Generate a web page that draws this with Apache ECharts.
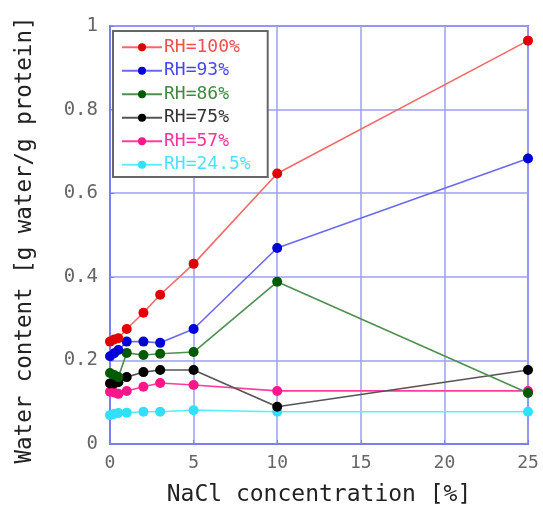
<!DOCTYPE html>
<html><head><meta charset="utf-8">
<script src="https://cdn.jsdelivr.net/npm/echarts@6/dist/echarts.min.js"></script>
<style>html,body{margin:0;padding:0;background:#fff}#c{width:543px;height:517px}</style>
</head><body><div id="c"></div>
<script>
const xValues = [0, 0.25, 0.5, 1, 2, 3, 5, 10, 25];
const rh100 = [0.245, 0.25, 0.253, 0.275, 0.314, 0.357, 0.431, 0.647, 0.965];
const rh93  = [0.21, 0.217, 0.225, 0.245, 0.245, 0.242, 0.275, 0.469, 0.683];
const rh86  = [0.17, 0.165, 0.16, 0.218, 0.213, 0.216, 0.22, 0.388, 0.122];
const rh75  = [0.145, 0.145, 0.148, 0.16, 0.172, 0.177, 0.177, 0.089, 0.177];
const rh57  = [0.125, 0.123, 0.12, 0.127, 0.137, 0.146, 0.141, 0.127, 0.127];
const rh245 = [0.069, 0.072, 0.074, 0.075, 0.077, 0.077, 0.081, 0.077, 0.077];
const seriesNames = ['RH=100%', 'RH=93%', 'RH=86%', 'RH=75%', 'RH=57%', 'RH=24.5%'];
const xTitle = 'NaCl concentration [%]';
const yTitle = 'Water content [g water/g protein]';

const styles = [
  {marker:'#e00000', line:'#f26a6a', text:'#f05050'},
  {marker:'#0000d8', line:'#6a6af0', text:'#4848ee'},
  {marker:'#005a00', line:'#4f8f4f', text:'#3f8a3f'},
  {marker:'#000000', line:'#555555', text:'#333333'},
  {marker:'#ff168a', line:'#ff3c9c', text:'#ff3399'},
  {marker:'#30e0ff', line:'#60eeff', text:'#50e0ff'}
];
const allData = [rh100, rh93, rh86, rh75, rh57, rh245];
const font = 'DejaVu Sans Mono';
const gridColor = '#9e9ef8';
const boxColor = '#7d7df2';

const chart = echarts.init(document.getElementById('c'), null, {renderer:'canvas'});
chart.setOption({
  animation: false,
  backgroundColor: '#fff',
  grid: {left:110, right:15, top:26, bottom:73, show:true, borderColor:boxColor, borderWidth:2, backgroundColor:'transparent'},
  legend: {
    orient:'vertical', left:113, top:31,
    backgroundColor:'#fff', borderColor:'#666', borderWidth:2,
    padding:[6,17,2,8], itemGap:3, itemWidth:40, itemHeight:10,
    textStyle:{fontFamily:font, fontSize:18, lineHeight:20.5, padding:[0,0,0,-3]},
    data: seriesNames.map((n,i)=>({name:n, textStyle:{color:styles[i].text}}))
  },
  xAxis: {
    type:'value', min:0, max:25, interval:5,
    name:xTitle, nameLocation:'middle', nameGap:40,
    nameTextStyle:{fontFamily:font, fontSize:23, color:'#222'},
    axisLine:{show:true, lineStyle:{color:boxColor, width:2}},
    axisTick:{show:true, inside:true, length:4, lineStyle:{color:boxColor}},
    axisLabel:{fontFamily:font, fontSize:18, color:'#666', margin:10},
    splitLine:{show:true, lineStyle:{color:gridColor, width:1.5}}
  },
  yAxis: {
    type:'value', min:0, max:1, interval:0.2,
    name:yTitle, nameLocation:'middle', nameGap:73, nameRotate:90,
    nameTextStyle:{fontFamily:font, fontSize:22.5, color:'#222', padding:[0,10,0,0]},
    axisLine:{show:true, lineStyle:{color:boxColor, width:2}},
    axisTick:{show:true, inside:true, length:4, lineStyle:{color:boxColor}},
    axisLabel:{fontFamily:font, fontSize:19, color:'#666', margin:12,
      formatter:v=>String(Math.round(v*10)/10)},
    splitLine:{show:true, lineStyle:{color:gridColor, width:1.5}}
  },
  series: allData.map((d,i)=>({
    name:seriesNames[i], type:'line',
    data:d.map((v,j)=>[xValues[j], v]),
    symbol:'circle', symbolSize:10,
    itemStyle:{color:styles[i].marker},
    lineStyle:{color:styles[i].line, width:1.6},
    z: 10 - i
  })).reverse()
});
</script></body></html>
